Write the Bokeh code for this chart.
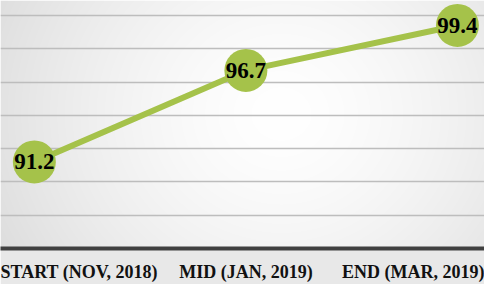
import numpy as np
from bokeh.plotting import figure
from bokeh.models import FixedTicker
from bokeh.core.properties import value
from bokeh.embed import file_html
from bokeh.resources import INLINE

# ---- data ----
categories = ["START (NOV, 2018)", "MID (JAN, 2019)", "END (MAR, 2019)"]
scores = [91.2, 96.7, 99.4]
y_ticks = [88, 90, 92, 94, 96, 98, 100]

xs = list(range(len(categories)))
labels = [f"{v:.1f}" for v in scores]

GREEN = "#A5C24A"
FONT = "Liberation Serif"

W, H = 484, 284
FH = 249
PX_PER_UNIT = 16.71
X0, X1 = -0.160, 2.128
Y0, Y1 = 86, 86 + FH / PX_PER_UNIT

p = figure(width=W, height=H, output_backend="svg", toolbar_location=None,
           x_range=(X0, X1), y_range=(Y0, Y1),
           min_border_left=0, min_border_right=0, min_border_top=0, min_border_bottom=H - FH)

# background radial gradient (decoration only)
jj, ii = np.meshgrid(np.arange(W), np.arange(FH))
px = jj + 0.5
py = FH - ii - 0.5
d = np.sqrt((px - 281) ** 2 + ((py - 114) * 1.1) ** 2)
t = np.clip(d / 320.0, 0, 1) ** 1.5
g = (255 - 34 * t).astype(np.uint32)
img = (np.uint32(255) << 24) | (g << 16) | (g << 8) | g
p.image_rgba(image=[img.astype(np.uint32)], x=X0, y=Y0, dw=X1 - X0, dh=Y1 - Y0, level="image")

p.background_fill_color = "#ffffff"
p.border_fill_color = "#e8e8e8"
p.outline_line_color = None

p.yaxis.visible = False
p.yaxis.ticker = FixedTicker(ticks=y_ticks)
p.ygrid.ticker = FixedTicker(ticks=y_ticks)
p.ygrid.grid_line_color = "#bdbdbd"
p.ygrid.grid_line_width = 1.5
p.xgrid.visible = False

p.xaxis.ticker = FixedTicker(ticks=xs)
p.xaxis.major_label_overrides = {i: c for i, c in zip(xs, categories)}
p.xaxis.axis_line_color = "#404040"
p.xaxis.axis_line_width = 4
p.xaxis.major_tick_line_color = None
p.xaxis.minor_tick_line_color = None
p.xaxis.major_tick_out = 0
p.xaxis.major_tick_in = 0
p.xaxis.major_label_standoff = 13
p.xaxis.major_label_text_font = FONT
p.xaxis.major_label_text_font_style = "bold"
p.xaxis.major_label_text_font_size = "18px"
p.xaxis.major_label_text_color = "#111111"

p.line(xs, scores, line_width=6, line_color=GREEN)
p.scatter(xs, scores, size=43, fill_color=GREEN, line_color=None)
p.text(xs, scores, text=labels, text_font=value(FONT), text_font_style="bold",
       text_font_size="23px", text_align="center", text_baseline="middle", text_color="#000000")

open("out.html", "w").write(file_html(p, INLINE))
